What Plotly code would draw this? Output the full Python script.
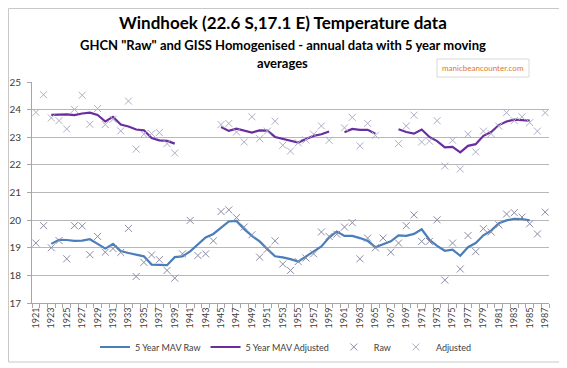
import plotly.graph_objects as go

years = list(range(1921, 1988))

raw = [19.17, 19.80, 19.00, 19.26, 18.60, 19.80, 19.79, 18.75, 19.41, 18.84,
       18.97, 18.83, 19.70, 17.96, 18.47, 18.74, 18.57, 18.18, 17.90, 18.78,
       19.99, 18.72, 18.78, 19.25, 20.31, 20.37, 20.09, 19.75, 19.47, 18.66,
       18.95, 19.25, 18.41, 18.18, 18.50, 18.63, 18.78, 19.57, 19.41, 19.49,
       19.75, 19.91, 18.60, 19.35, 19.00, 19.35, 18.84, 19.17, 19.80, 20.19,
       19.23, 19.23, 20.01, 17.83, 19.17, 18.23, 19.44, 18.86, 19.69, 19.57,
       19.83, 20.22, 20.27, 20.11, 19.87, 19.50, 20.29]

raw_mav = [None, None, 19.14, 19.29, 19.28, 19.25, 19.26, 19.31, 19.14, 18.97,
           19.14, 18.88, 18.81, 18.74, 18.69, 18.39, 18.39, 18.37, 18.66, 18.69,
           18.87, 19.11, 19.37, 19.50, 19.71, 19.95, 19.97, 19.67, 19.43, 19.23,
           18.95, 18.69, 18.65, 18.59, 18.50, 18.69, 18.87, 19.05, 19.37, 19.59,
           19.43, 19.43, 19.35, 19.25, 19.02, 19.12, 19.23, 19.45, 19.43, 19.50,
           19.67, 19.29, 19.07, 18.89, 18.93, 18.71, 19.02, 19.17, 19.45, 19.62,
           19.89, 19.99, 20.05, 20.04, 19.99, None, None]

adjusted = [23.90, 24.54, 23.70, 23.60, 23.30, 24.01, 24.52, 23.47, 24.04, 23.46,
            23.65, 23.23, 24.31, 22.57, 23.11, 23.13, 23.17, 22.77, 22.43, None,
            None, None, None, None, 23.46, 23.50, 23.19, 22.83, 23.74, 22.95,
            23.22, 23.58, 22.71, 22.50, 22.80, 22.90, 23.11, 23.41, 22.89, None,
            23.34, 23.72, 22.69, 23.50, 23.07, None, None, 22.77, 23.41, 23.80,
            22.83, 22.86, 23.60, 21.96, 22.89, 21.85, 23.11, 22.47, 23.22, 23.13,
            23.40, 23.89, 23.60, 23.74, 23.53, 23.22, 23.89]

adj_mav = [None, None, 23.81, 23.83, 23.83, 23.80, 23.86, 23.89, 23.81, 23.57,
           23.74, 23.46, 23.39, 23.28, 23.25, 22.97, 22.89, 22.87, 22.77, None,
           None, None, None, None, 23.37, 23.23, 23.31, 23.23, 23.17, 23.25,
           23.24, 23.01, 22.94, 22.88, 22.81, 22.94, 23.05, 23.11, 23.21, None,
           23.18, 23.30, 23.27, 23.27, 23.13, None, None, 23.29, 23.19, 23.13,
           23.28, 23.01, 22.86, 22.63, 22.65, 22.45, 22.69, 22.75, 23.05, 23.19,
           23.44, 23.57, 23.64, 23.62, 23.60, None, None]

tick_years = years[::2]
tick_text = [str(y) for y in tick_years]
y_ticks = [17, 18, 19, 20, 21, 22, 23, 24, 25]

FONT = "Lato"
# page body has an 8px default margin; lay the figure out in page coordinates
OFF = 8
W, H = 567 - OFF, 368 - OFF
PL, PR, PT, PB = 32, 549, 82, 303          # plot area in page pixels
L, R, T, B = PL - OFF, W - (PR - OFF), PT - OFF, H - (PB - OFF)
pw, ph = W - L - R, H - T - B

def px(x):
    return (x - OFF - L) / pw

def py(y):
    return (H - B - (y - OFF)) / ph

fig = go.Figure()
fig.add_trace(go.Scatter(x=years, y=raw_mav, mode="lines", name="5 Year MAV Raw",
                         line=dict(color="#4A7EBB", width=2.2), connectgaps=False))
fig.add_trace(go.Scatter(x=years, y=adj_mav, mode="lines", name="5 Year MAV Adjusted",
                         line=dict(color="#6A2D9F", width=2.2), connectgaps=False))
fig.add_trace(go.Scatter(x=years, y=raw, mode="markers", name="Raw",
                         marker=dict(symbol="x-thin", size=7,
                                     line=dict(width=1, color="#8C8CA6"))))
fig.add_trace(go.Scatter(x=years, y=adjusted, mode="markers", name="Adjusted",
                         marker=dict(symbol="x-thin", size=7,
                                     line=dict(width=1, color="#AEAEC6"))))

fig.update_layout(
    width=W, height=H,
    margin=dict(l=L, r=R, t=T, b=B, autoexpand=False),
    paper_bgcolor="white", plot_bgcolor="white",
    font=dict(family=FONT, color="#404040", size=10),
    showlegend=True,
    legend=dict(orientation="h", x=px(286), xanchor="center", y=py(347), yanchor="middle",
                font=dict(size=9, color="#404040"), itemwidth=30,
                traceorder="normal", bgcolor="rgba(0,0,0,0)"),
    xaxis=dict(range=[1920.5, 1987.5], tickmode="array", tickvals=tick_years,
               ticktext=tick_text, tickangle=-90, tickfont=dict(size=9, color="#404040"),
               showgrid=False, zeroline=False, showline=True, linecolor="#A6A6A6",
               linewidth=1, ticks="",
               minor=dict(tickmode="linear", tick0=1920.5, dtick=1, ticks="outside",
                          ticklen=4, tickcolor="#A6A6A6", showgrid=False)),
    yaxis=dict(range=[17, 25], tickmode="array", tickvals=y_ticks,
               tickfont=dict(size=10, color="#404040"),
               showgrid=True, gridcolor="#B8B8B8", gridwidth=1, zeroline=False,
               showline=True, linecolor="#A6A6A6", linewidth=1,
               ticks="outside", ticklen=4, tickcolor="#A6A6A6", ticklabelstandoff=4),
)

# outer chart border
fig.add_shape(type="rect", xref="paper", yref="paper",
              x0=px(OFF + 0.5), x1=px(560), y0=py(362), y1=py(OFF + 0.5),
              line=dict(color="#C8C8C8", width=1), fillcolor="rgba(0,0,0,0)", layer="below")

# titles
fig.add_annotation(text="<b>Windhoek (22.6 S,17.1 E) Temperature data</b>",
                   xref="paper", yref="paper", x=px(283), y=py(22), showarrow=False,
                   xanchor="center", yanchor="middle",
                   font=dict(family=FONT, size=17, color="#000000"))
fig.add_annotation(text="<b>GHCN \"Raw\" and GISS Homogenised - annual data with 5 year moving</b>",
                   xref="paper", yref="paper", x=px(283), y=py(45), showarrow=False,
                   xanchor="center", yanchor="middle",
                   font=dict(family=FONT, size=13, color="#000000"))
fig.add_annotation(text="<b>averages</b>",
                   xref="paper", yref="paper", x=px(282), y=py(63), showarrow=False,
                   xanchor="center", yanchor="middle",
                   font=dict(family=FONT, size=13, color="#000000"))

# watermark box
fig.add_shape(type="rect", xref="paper", yref="paper",
              x0=px(437), x1=px(529), y0=py(77), y1=py(59),
              line=dict(color="#D8D8D8", width=1), fillcolor="white")
fig.add_annotation(text="manicbeancounter.com",
                   xref="paper", yref="paper", x=px(483), y=py(68), showarrow=False,
                   xanchor="center", yanchor="middle",
                   font=dict(family=FONT, size=8, color="#E07828"))

fig.write_html("out.html")
